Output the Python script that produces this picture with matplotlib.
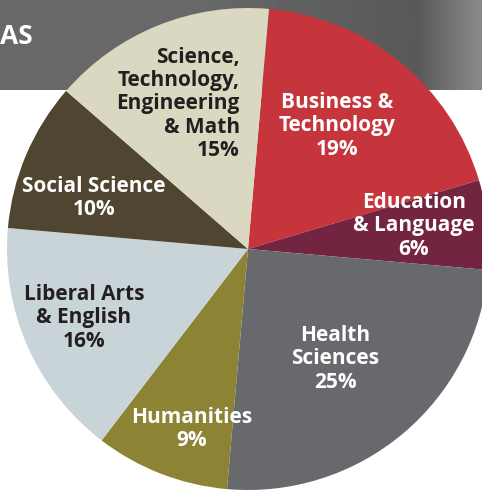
import numpy as np
import matplotlib.pyplot as plt

# data
categories = ['Business &\nTechnology', 'Education\n& Language', 'Health\nSciences',
              'Humanities', 'Liberal Arts\n& English', 'Social Science',
              'Science,\nTechnology,\nEngineering\n& Math']
shares = [19, 6, 25, 9, 16, 10, 15]
colors = ['#c6353b', '#732441', '#68696c', '#8c8334', '#c9d4d8', '#4f4530', '#dad8c1']
text_colors = ['white', 'white', 'white', 'white', '#231f20', 'white', '#231f20']

plt.rcParams['font.family'] = ['Open Sans', 'DejaVu Sans']

fig = plt.figure(figsize=(4.82, 4.93), dpi=100)

# grey header band
bg = fig.add_axes([0, 1 - 90 / 493, 1, 90 / 493])
x = np.linspace(0, 1, 482)
shade = 0.41 - 0.06 * np.clip((x - 0.4) / 0.45, 0, 1) + 0.18 * np.clip((x - 0.87) / 0.12, 0, 1)
bg.imshow(np.tile(shade, (20, 1)), cmap='gray', vmin=0, vmax=1, aspect='auto',
          extent=[0, 1, 0, 1], interpolation='bilinear')
bg.set_xlim(0, 1)
bg.set_ylim(0, 1)
bg.set_axis_off()
fig.text(0.0, 1 - 37 / 493, 'AS', color='white', fontsize=19, fontweight='bold',
         ha='left', va='center')

# pie
ax = fig.add_axes([7 / 482, 3 / 493, 482 / 482, 482 / 493])
ax.pie(shares, colors=colors, startangle=85, counterclock=False, radius=1)
ax.set_xlim(-1, 1)
ax.set_ylim(-1, 1)
ax.set_axis_off()

# label positions in pixels (center of text block)
cx, cy, r = 248, 249, 241
label_px = [(337, 126), (414, 226), (335, 359), (192, 429), (84, 318), (94, 198), (240, 104)]
for i, lab in enumerate(categories):
    px, py = label_px[i]
    txt = lab + '\n' + str(shares[i]) + '%'
    ha = 'right' if i == 6 else 'center'
    ax.text((px - cx) / r, (cy - py) / r, txt, ha=ha, va='center', multialignment=ha,
            color=text_colors[i], fontsize=15, fontweight='bold', linespacing=1.15)

fig.savefig('out.png', dpi=100)
